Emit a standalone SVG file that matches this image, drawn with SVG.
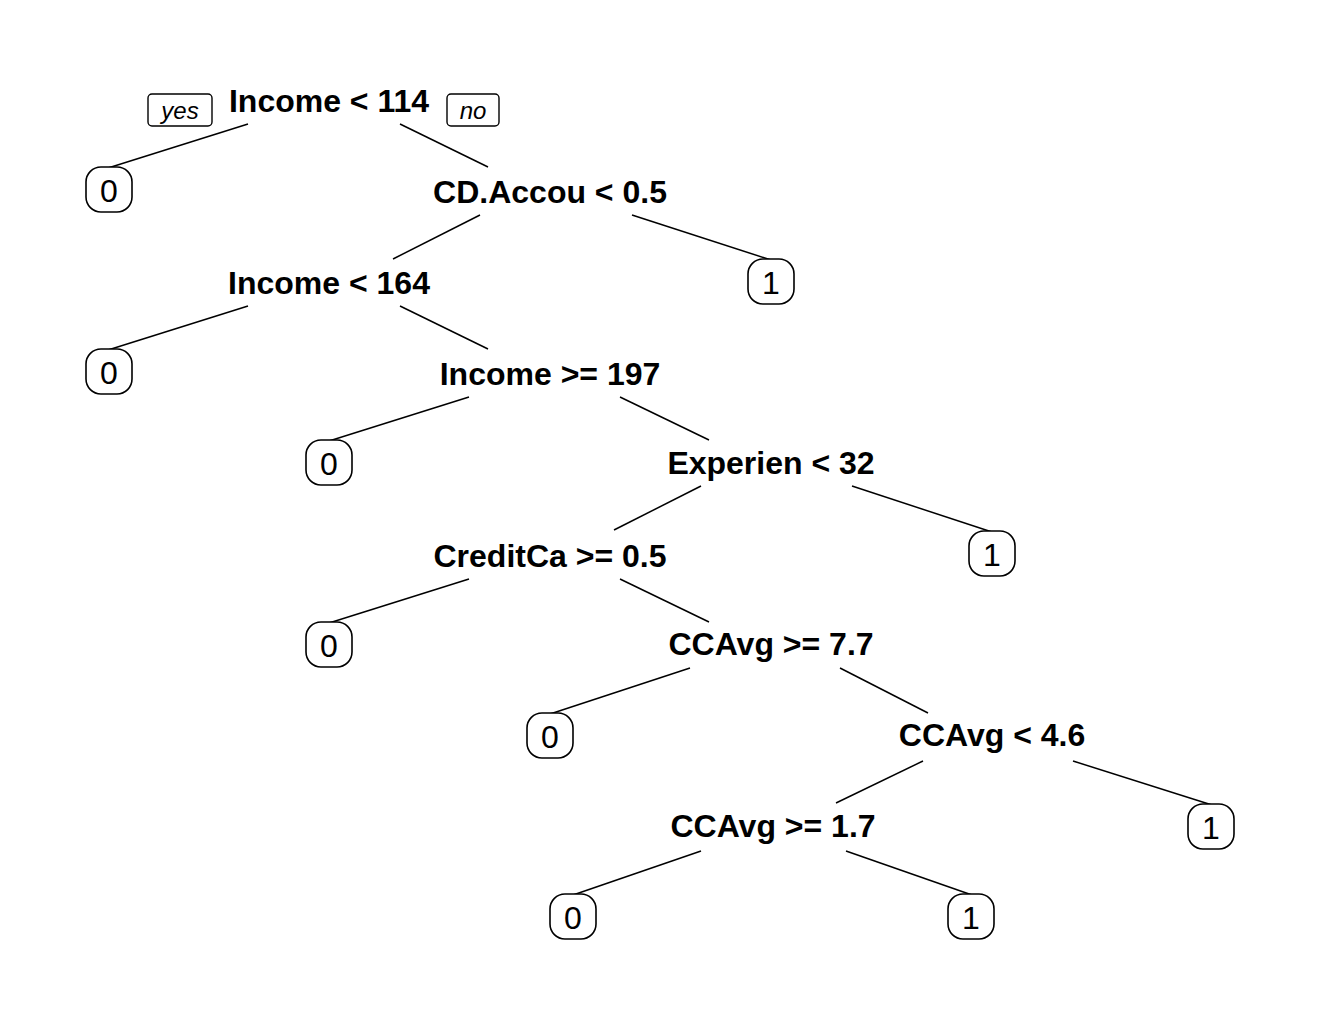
<svg xmlns="http://www.w3.org/2000/svg" width="1320" height="1014" viewBox="0 0 1320 1014">
<style>
.split{font-family:"Liberation Sans",Arial,sans-serif;font-weight:bold;font-size:32px;text-anchor:middle;fill:#000}
.leaf text{font-family:"Liberation Sans",Arial,sans-serif;font-size:32px;text-anchor:middle;fill:#000}
.leaf rect{fill:#fff;stroke:#000;stroke-width:1.6}
.yn text{font-family:"Liberation Sans",Arial,sans-serif;font-style:italic;font-size:24px;text-anchor:middle;fill:#000}
.yn rect{fill:#fff;stroke:#000;stroke-width:1.4}
.edges line{stroke:#000;stroke-width:1.5}
</style>
<rect width="1320" height="1014" fill="#fff"/>
<g class="edges" id="connectors">
<line x1="248" y1="124" x2="108" y2="168"/>
<line x1="400" y1="124" x2="488" y2="167"/>
<line x1="480" y1="215" x2="393" y2="259"/>
<line x1="632" y1="215" x2="771" y2="260"/>
<line x1="248" y1="306" x2="108" y2="350"/>
<line x1="400" y1="306" x2="488" y2="349"/>
<line x1="469" y1="397" x2="329" y2="441"/>
<line x1="620" y1="397" x2="709" y2="440"/>
<line x1="701" y1="486" x2="614" y2="530"/>
<line x1="852" y1="486" x2="992" y2="532"/>
<line x1="469" y1="579" x2="329" y2="623"/>
<line x1="620" y1="579" x2="709" y2="622"/>
<line x1="690" y1="668" x2="550" y2="714"/>
<line x1="840" y1="668" x2="928" y2="713"/>
<line x1="923" y1="761" x2="836" y2="803"/>
<line x1="1073" y1="761" x2="1212" y2="805"/>
<line x1="701" y1="851" x2="573" y2="895"/>
<line x1="846" y1="851" x2="972" y2="895"/>
</g>
<g class="yn" id="yes"><rect x="148" y="94" width="64" height="32" rx="4"/><text x="180" y="119">yes</text></g>
<g class="yn" id="no"><rect x="447" y="94" width="52" height="32" rx="4"/><text x="473" y="119">no</text></g>
<g id="n1"><text class="split" x="329" y="112">Income &lt; 114</text></g>
<g id="n2"><text class="split" x="550" y="203">CD.Accou &lt; 0.5</text></g>
<g id="n3"><text class="split" x="329" y="294">Income &lt; 164</text></g>
<g id="n4"><text class="split" x="550" y="385">Income &gt;= 197</text></g>
<g id="n5"><text class="split" x="771" y="474">Experien &lt; 32</text></g>
<g id="n6"><text class="split" x="550" y="567">CreditCa &gt;= 0.5</text></g>
<g id="n7"><text class="split" x="771" y="655">CCAvg &gt;= 7.7</text></g>
<g id="n8"><text class="split" x="992" y="746">CCAvg &lt; 4.6</text></g>
<g id="n9"><text class="split" x="773" y="837">CCAvg &gt;= 1.7</text></g>
<g class="leaf" id="l1"><rect x="86" y="167" width="46" height="45" rx="15"/><text x="109" y="202">0</text></g>
<g class="leaf" id="l2"><rect x="748" y="259" width="46" height="45" rx="15"/><text x="771" y="294">1</text></g>
<g class="leaf" id="l3"><rect x="86" y="349" width="46" height="45" rx="15"/><text x="109" y="384">0</text></g>
<g class="leaf" id="l4"><rect x="306" y="440" width="46" height="45" rx="15"/><text x="329" y="475">0</text></g>
<g class="leaf" id="l5"><rect x="969" y="531" width="46" height="45" rx="15"/><text x="992" y="566">1</text></g>
<g class="leaf" id="l6"><rect x="306" y="622" width="46" height="45" rx="15"/><text x="329" y="657">0</text></g>
<g class="leaf" id="l7"><rect x="527" y="713" width="46" height="45" rx="15"/><text x="550" y="748">0</text></g>
<g class="leaf" id="l8"><rect x="1188" y="804" width="46" height="45" rx="15"/><text x="1211" y="839">1</text></g>
<g class="leaf" id="l9"><rect x="550" y="894" width="46" height="45" rx="15"/><text x="573" y="929">0</text></g>
<g class="leaf" id="l10"><rect x="948" y="894" width="46" height="45" rx="15"/><text x="971" y="929">1</text></g>
</svg>
